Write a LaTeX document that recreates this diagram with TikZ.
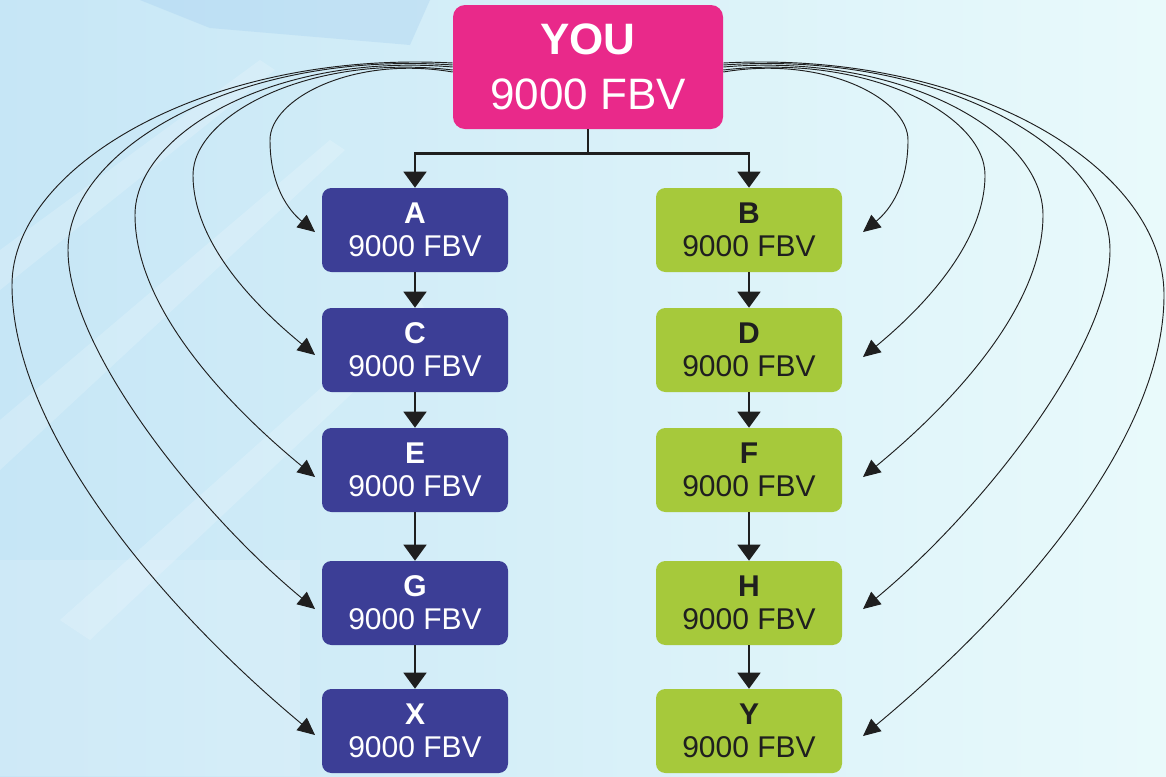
\documentclass[tikz,border=0pt]{standalone}
\usepackage{fontspec}
\setmainfont{Liberation Sans}
\usetikzlibrary{arrows.meta,calc}
\definecolor{youpink}{HTML}{E9298A}
\definecolor{boxblue}{HTML}{3C3E96}
\definecolor{boxgreen}{HTML}{A6C93B}
\definecolor{linegray}{HTML}{1F1F1F}
\definecolor{bgleft}{HTML}{C6E6F6}
\definecolor{bgmid}{HTML}{DDF3FA}
\definecolor{bgright}{HTML}{E9FAFB}
\definecolor{bgpatch}{HTML}{8DBEEA}
\begin{document}
\begin{tikzpicture}[x=0.75pt,y=-0.75pt,
  youbox/.style={fill=youpink, rounded corners=9pt, minimum width=202.5pt, minimum height=93pt,
    text=white, align=center, font=\fontsize{33}{41}\selectfont, inner sep=0pt},
  bluebox/.style={fill=boxblue, rounded corners=7pt, minimum width=139.5pt, minimum height=63pt,
    text=white, align=center, font=\fontsize{22.5}{24.75}\selectfont, inner sep=0pt},
  greenbox/.style={bluebox, fill=boxgreen, text=linegray},
  tree/.style={draw=linegray, line width=2pt, -{Triangle[length=12pt,width=17pt]}},
  curve/.style={draw=linegray, line width=0.7pt, -{Triangle[length=13pt,width=12pt]}},
  ray/.style={fill=white, opacity=0.18},
]
% background
\useasboundingbox (0,0) rectangle (1166,776);
\shade[left color=bgleft, middle color=bgmid, right color=bgright] (0,0) rectangle (1166,776);
\fill[bgpatch, opacity=0.22] (140,0) -- (430,0) -- (410,45) -- (210,28) -- cycle;
\fill[ray] (0,420) -- (330,140) -- (345,150) -- (0,470) -- cycle;
\fill[ray] (0,250) -- (260,60) -- (275,70) -- (0,290) -- cycle;
\fill[ray] (60,620) -- (420,300) -- (430,320) -- (90,640) -- cycle;
\fill[white, opacity=0.15] (0,560) rectangle (300,776);

% nodes
\node[youbox] (you) at (588,67) {\textbf{YOU}\\9000 FBV};
\node[bluebox] (a) at (415,230) {\textbf{A}\\9000 FBV};
\node[bluebox] (c) at (415,350) {\textbf{C}\\9000 FBV};
\node[bluebox] (e) at (415,470) {\textbf{E}\\9000 FBV};
\node[bluebox] (g) at (415,603) {\textbf{G}\\9000 FBV};
\node[bluebox] (x) at (415,731) {\textbf{X}\\9000 FBV};
\node[greenbox] (b) at (749,230) {\textbf{B}\\9000 FBV};
\node[greenbox] (d) at (749,350) {\textbf{D}\\9000 FBV};
\node[greenbox] (f) at (749,470) {\textbf{F}\\9000 FBV};
\node[greenbox] (h) at (749,603) {\textbf{H}\\9000 FBV};
\node[greenbox] (y) at (749,731) {\textbf{Y}\\9000 FBV};

% tree connectors
\draw[tree] (you.south) -- ++(0,24) -| (a.north);
\draw[tree] (you.south) -- ++(0,24) -| (b.north);
\draw[tree] (a) -- (c);
\draw[tree] (c) -- (e);
\draw[tree] (e) -- (g);
\draw[tree] (g) -- (x);
\draw[tree] (b) -- (d);
\draw[tree] (d) -- (f);
\draw[tree] (f) -- (h);
\draw[tree] (h) -- (y);

% arrow tips of the curved connectors
\coordinate (ta) at (315,232);
\coordinate (tc) at (315,355);
\coordinate (te) at (315,477);
\coordinate (tg) at (315,609);
\coordinate (tx) at (315,735);
\coordinate (tb) at (863,232);
\coordinate (td) at (863,357);
\coordinate (tf) at (863,477);
\coordinate (th) at (863,609);
\coordinate (ty) at (863,736);

% left curves
\draw[curve] ($(you.west)+(0,5)$) .. controls (353,55) and (270,99) .. (270,140)
  .. controls (270,185) and (288,210) .. (ta);
\draw[curve] ($(you.west)+(0,3)$) .. controls (310,53) and (193,115) .. (193,175)
  .. controls (193,250) and (269,317) .. (tc);
\draw[curve] ($(you.west)+(0,0)$) .. controls (278,52) and (135,132) .. (135,215)
  .. controls (135,320) and (253,426) .. (te);
\draw[curve] ($(you.west)+(0,-2)$) .. controls (240,50) and (68,148) .. (68,250)
  .. controls (68,350) and (200,514) .. (tg);
\draw[curve] ($(you.west)+(0,-4)$) .. controls (211,50) and (12,165) .. (12,285)
  .. controls (12,430) and (161,607) .. (tx);

% right curves
\draw[curve] ($(you.east)+(0,5)$) .. controls (825,55) and (908,99) .. (908,140)
  .. controls (908,185) and (890,210) .. (tb);
\draw[curve] ($(you.east)+(0,3)$) .. controls (868,53) and (985,115) .. (985,175)
  .. controls (985,250) and (909,319) .. (td);
\draw[curve] ($(you.east)+(0,0)$) .. controls (900,52) and (1043,132) .. (1043,215)
  .. controls (1043,320) and (925,426) .. (tf);
\draw[curve] ($(you.east)+(0,-2)$) .. controls (938,50) and (1110,148) .. (1110,250)
  .. controls (1110,350) and (978,514) .. (th);
\draw[curve] ($(you.east)+(0,-4)$) .. controls (967,50) and (1164,165) .. (1164,295)
  .. controls (1164,440) and (1017,608) .. (ty);
\end{tikzpicture}
\end{document}
